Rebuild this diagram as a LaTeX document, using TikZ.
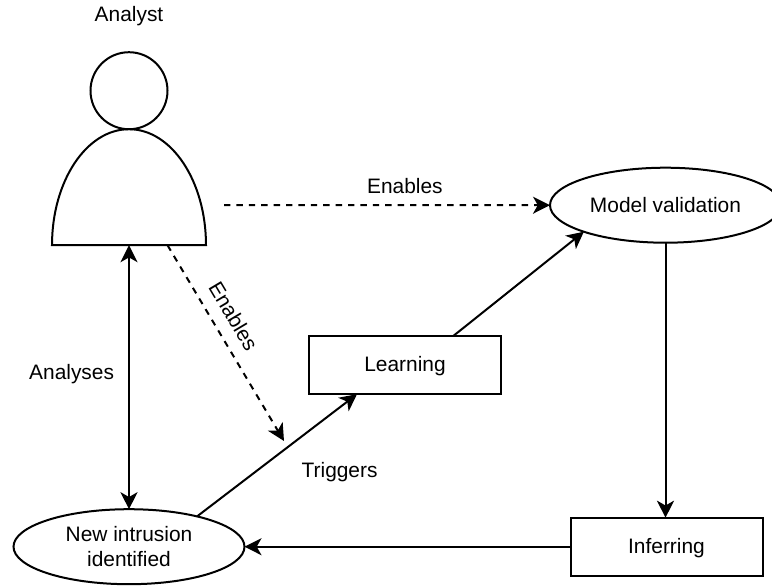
\documentclass[tikz,border=0pt]{standalone}
\usepackage{fontspec}
\setmainfont{Liberation Sans}
\usetikzlibrary{arrows.meta, calc, positioning, shapes}

\begin{document}
\begin{tikzpicture}[x=0.5pt,y=-0.5pt,font=\fontsize{10.45}{12.7}\selectfont]
\tikzset{every node/.style={inner sep=0mm, outer sep=0mm}}

\tikzstyle{head}=[circle,draw=black,line width=1pt,minimum size=38.5pt]
\tikzstyle{body}=[rectangle,minimum width=77pt,minimum height=58pt]
\tikzstyle{activity}=[ellipse,draw=black,line width=1pt,minimum width=115.5pt,minimum height=37.5pt,align=center]
\tikzstyle{phase}=[rectangle,draw=black,line width=1pt,minimum width=96pt,minimum height=29pt,text height=1.5ex,text depth=.25ex]
\tikzstyle{caption}=[text height=1.5ex,text depth=.25ex]
\tikzstyle{post}=[-{Stealth[length=8.5pt,width=8.5pt,inset=2.4pt]}, line width=1pt]
\tikzstyle{both}=[{Stealth[length=8.5pt,width=8.5pt,inset=2.4pt]}-{Stealth[length=8.5pt,width=8.5pt,inset=2.4pt]}, line width=1pt]
\tikzstyle{hint}=[post, dash pattern=on 3.2pt off 3pt]

\useasboundingbox (0,0) rectangle (772,585);

\node[head] (analyst head) at (129,90.7) {};
\node[above=13pt of analyst head] (analyst label) {Analyst};
\node[body, below=0mm of analyst head] (analyst body) {};

\node[activity, below=132pt of analyst body] (new intrusion) {New intrusion\\identified};
\node[phase, right=163pt of new intrusion] (inferring) {Inferring};
\node[activity, above=137.5pt of inferring, xshift=-.5pt] (model validation) {Model validation};
\node[phase, below right=45.5pt and 51.5pt of analyst body] (learning) {Learning};

\coordinate (enables start) at (224,205);
\coordinate (enables end) at (284,441);

% actor outline
\draw[line width=1pt] (analyst body.south west) arc[start angle=180, end angle=0, x radius=38.5pt, y radius=58pt] -- cycle;

\path[both] (analyst body.south) edge node[caption, pos=.485, left=7.5pt] (analyses label) {Analyses} (new intrusion.north);
\path[post] (model validation.south) edge (inferring.north -| model validation.south);
\path[post] (inferring.west) edge (new intrusion.east);
\path[post] (new intrusion.24) edge node[caption, pos=.654, below right=12.5pt and 0pt] (triggers label) {Triggers} ($(learning.south west)!.25!(learning.south east)$);
\path[post] ($(learning.north west)!.75!(learning.north east)$) edge (model validation.198);

\path[hint] (enables start) edge node[pos=.555, above=5.5pt] (enables top label) {Enables} (model validation.west);
\path[hint] ($(analyst body.south west)!.75!(analyst body.south east)$) edge node[pos=.415, sloped, above=6.5pt] (enables side label) {Enables} (enables end);

\end{tikzpicture}
\end{document}
